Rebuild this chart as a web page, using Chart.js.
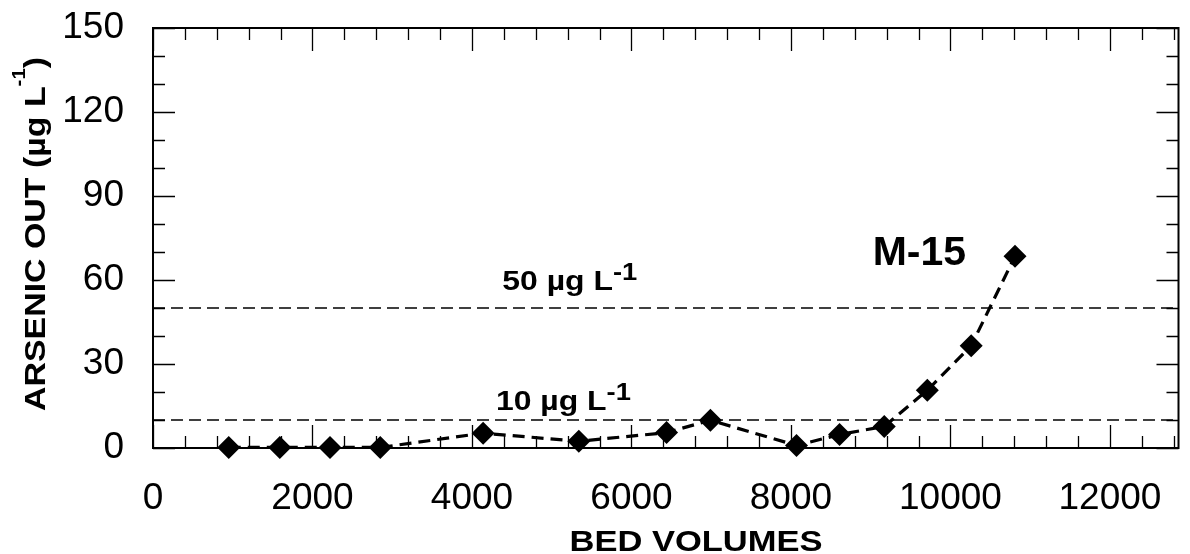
<!DOCTYPE html>
<html>
<head>
<meta charset="utf-8">
<script src="https://cdn.jsdelivr.net/npm/chart.js@4.4.1/dist/chart.umd.min.js"></script>
<style>
  html, body { margin: 0; padding: 0; background: #fff; }
  #wrap { width: 1190px; height: 554px; }
</style>
</head>
<body>
<div id="wrap"><canvas id="Chart"></canvas></div>
<script>
// values
const bedVolumes = [950, 1590, 2220, 2850, 4140, 5340, 6440, 6990, 8070, 8610, 9170, 9710, 10260, 10810];
const arsenicOut = [0.2, 0.2, 0.2, 0.2, 5.3, 2.4, 5.5, 9.9, 0.9, 4.8, 7.7, 20.6, 36.5, 68.5];
const xTicks = [0, 2000, 4000, 6000, 8000, 10000, 12000];
const yTicks = [0, 30, 60, 90, 120, 150];
const limitValues = [50, 10];
const limitNames = ["50 \u00b5g L", "10 \u00b5g L"];
const limitNameAt = [[4380, 56.5], [4300, 13.7]];
const seriesName = "M-15";
const seriesNameAt = [9025, 65.5];

const xMax = 12860;
const yMax = 150;
const xMinor = 400;
const yMinor = 10;

const FONT = "'Liberation Sans', Arial, sans-serif";

const limitSets = limitValues.map((v) => ({
  data: [{ x: 0, y: v }, { x: xMax, y: v }],
  showLine: true,
  borderColor: "#000",
  borderWidth: 1.6,
  borderDash: [12, 6],
  pointRadius: 0,
}));

// bold text, stretched sideways like the original lettering
// parts = [[text, size, raise]]
function richText(ctx, x, y, parts, align, sx) {
  let w = 0;
  parts.forEach(([t, s]) => {
    ctx.font = "bold " + s + "px " + FONT;
    w += ctx.measureText(t).width * sx;
  });
  let cx = align === "center" ? x - w / 2 : x;
  parts.forEach(([t, s, r]) => {
    ctx.font = "bold " + s + "px " + FONT;
    ctx.save();
    ctx.translate(cx, y - (r || 0));
    ctx.scale(sx, 1);
    ctx.fillText(t, 0, 0);
    ctx.restore();
    cx += ctx.measureText(t).width * sx;
  });
}

const frame = {
  id: "frame",
  beforeDatasetsDraw(chart) {
    const { ctx, chartArea: a, scales: { x, y } } = chart;
    ctx.save();
    ctx.strokeStyle = "#000";
    ctx.lineWidth = 1.3;
    ctx.beginPath();
    for (let v = 0; v <= xMax; v += xMinor) {
      const px = Math.round(x.getPixelForValue(v)) + 0.5;
      const len = xTicks.includes(v) ? 23 : 12;
      ctx.moveTo(px, a.bottom); ctx.lineTo(px, a.bottom - len);
      ctx.moveTo(px, a.top); ctx.lineTo(px, a.top + len);
    }
    for (let v = 0; v <= yMax; v += yMinor) {
      const py = Math.round(y.getPixelForValue(v)) + 0.5;
      const len = yTicks.includes(v) ? 22 : 12;
      ctx.moveTo(a.left, py); ctx.lineTo(a.left + len, py);
      ctx.moveTo(a.right, py); ctx.lineTo(a.right - len, py);
    }
    ctx.stroke();
    ctx.lineWidth = 2;
    ctx.strokeRect(a.left, a.top, a.right - a.left, a.bottom - a.top);
    ctx.restore();
  },
  afterDraw(chart) {
    const { ctx, scales: { x, y } } = chart;
    ctx.save();
    ctx.fillStyle = "#000";
    ctx.textBaseline = "alphabetic";
    ctx.textAlign = "left";

    limitNames.forEach((t, i) => {
      const [vx, vy] = limitNameAt[i];
      richText(ctx, x.getPixelForValue(vx), y.getPixelForValue(vy), [[t, 28, 0], ["-1", 24, 10]], "left", 1.14);
    });
    richText(ctx, x.getPixelForValue(seriesNameAt[0]), y.getPixelForValue(seriesNameAt[1]), [[seriesName, 41, 0]], "left", 1.0);

    // axis titles
    richText(ctx, 696, 551, [["BED VOLUMES", 30, 0]], "center", 1.15);
    ctx.translate(45, 234);
    ctx.rotate(-Math.PI / 2);
    richText(ctx, 0, 0, [["ARSENIC OUT (\u00b5g L", 30, 0], ["-1", 18, 20], [")", 30, 0]], "center", 1.13);
    ctx.restore();
  },
};

Chart.defaults.font.family = FONT;

new Chart(document.getElementById("Chart"), {
  type: "scatter",
  data: {
    datasets: [
      ...limitSets,
      {
        data: bedVolumes.map((v, i) => ({ x: v, y: arsenicOut[i] })),
        showLine: true,
        borderColor: "#000",
        borderWidth: 3.2,
        borderDash: [12, 7],
        pointStyle: "rectRot",
        pointRadius: 11.5,
        pointHoverRadius: 11.5,
        pointBackgroundColor: "#000",
        pointBorderColor: "#000",
        pointBorderWidth: 0,
        clip: false,
      },
    ],
  },
  options: {
    responsive: true,
    maintainAspectRatio: false,
    animation: false,
    layout: { padding: { top: 28, right: 2, left: 0, bottom: 0 } },
    plugins: { legend: { display: false }, tooltip: { enabled: false } },
    scales: {
      x: {
        type: "linear",
        min: 0,
        max: xMax,
        grid: { display: false },
        border: { display: false },
        ticks: {
          color: "#000",
          padding: 21,
          maxRotation: 0,
          autoSkip: false,
          font: { size: 37 },
          callback: (v) => String(v),
        },
        afterBuildTicks: (s) => { s.ticks = xTicks.map((v) => ({ value: v })); },
        afterFit: (s) => {
          s.height = 106;
          s.paddingLeft = 0;
          s.paddingRight = 0;
        },
      },
      y: {
        min: 0,
        max: yMax,
        grid: { display: false },
        border: { display: false },
        ticks: {
          color: "#000",
          padding: 21,
          autoSkip: false,
          font: { size: 37 },
          callback: (v) => String(v),
        },
        afterBuildTicks: (s) => { s.ticks = yTicks.map((v) => ({ value: v })); },
        afterFit: (s) => {
          s.width = 153;
          s.paddingTop = 0;
          s.paddingBottom = 0;
        },
      },
    },
  },
  plugins: [frame],
});
</script>
</body>
</html>
